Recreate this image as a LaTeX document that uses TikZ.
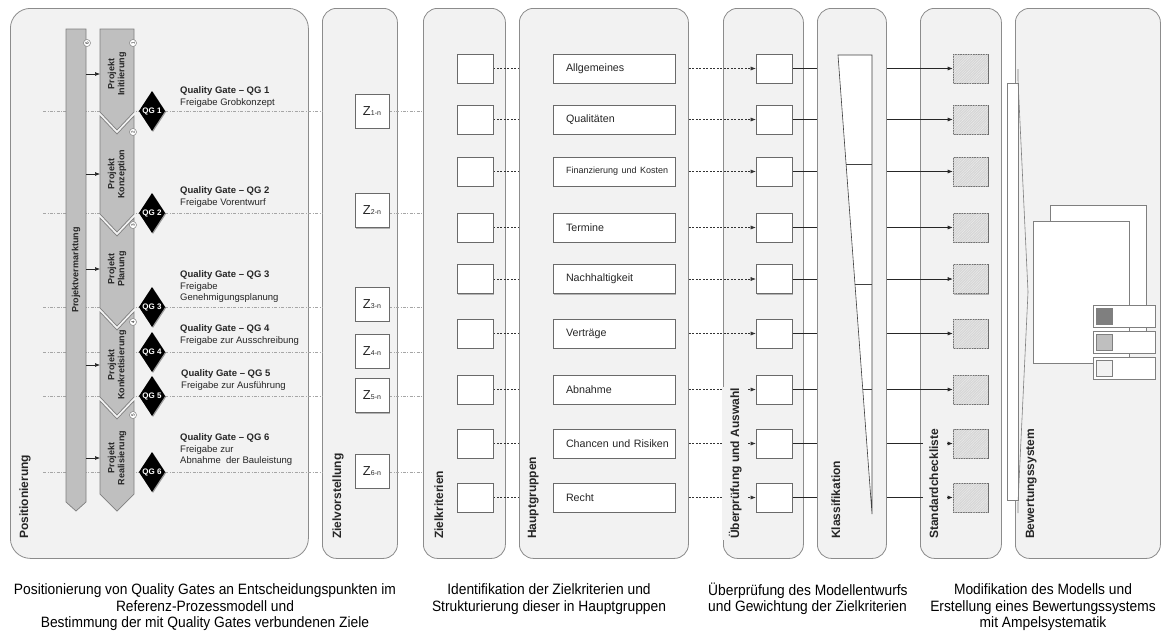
\documentclass[tikz,border=0pt]{standalone}
\usepackage{fontspec}
\setmainfont{Liberation Sans}
\newfontfamily\capfont[FakeStretch=0.92]{Liberation Sans}
\usetikzlibrary{shapes.geometric,shadows,arrows.meta,backgrounds,patterns.meta}

\definecolor{panelfill}{HTML}{F2F2F2}
\definecolor{panelline}{HTML}{8C8C8C}
\definecolor{chevfill}{HTML}{BFBFBF}
\definecolor{chevline}{HTML}{7F7F7F}
\definecolor{boxline}{HTML}{6A6A6A}
\definecolor{gatecol}{HTML}{A6A6A6}
\definecolor{hatchfill}{HTML}{D6D6D6}
\definecolor{txtdark}{HTML}{262626}
\definecolor{ampeldark}{HTML}{7F7F7F}
\definecolor{ampelmid}{HTML}{BFBFBF}
\definecolor{ampellight}{HTML}{F2F2F2}

\newcommand\zsub[1]{{\fontsize{7}{7}\selectfont #1}}
\newcommand\hgsmall{\fontsize{9}{10}\selectfont}

\tikzset{
  panel/.style={draw=panelline, fill=panelfill, line width=0.8pt, rounded corners=14pt, inner sep=0pt, anchor=north west},
  plabel/.style={rotate=90, anchor=base west, font=\bfseries\fontsize{12}{12}\selectfont, text=txtdark, fill=panelfill, inner xsep=1pt, inner ysep=6.5pt, text depth=2.6pt},
  wbox/.style={draw=boxline, fill=white, line width=0.6pt, inner sep=0pt, drop shadow={shadow xshift=1.3pt, shadow yshift=-1.3pt, opacity=0.5, fill=black!55}},
  zkbox/.style={wbox, minimum width=36pt, minimum height=29pt},
  uebox/.style={wbox, minimum width=36pt, minimum height=29pt},
  scbox/.style={wbox, fill=hatchfill, minimum width=35pt, minimum height=29pt, postaction={pattern={Lines[angle=45,distance=1.8pt,line width=0.4pt]}, pattern color=white!55!hatchfill}},
  hgbox/.style={wbox, minimum width=122pt, minimum height=29pt, text width=122pt, align=left, font=\fontsize{10.7}{12}\selectfont, text=txtdark},
  zbox/.style={wbox, minimum width=34pt, minimum height=34pt, font=\fontsize{13}{13}\selectfont, text=txtdark},
  qg/.style={diamond, fill=black, text=white, font=\bfseries\fontsize{8}{8}\selectfont, inner sep=0pt, minimum width=26pt, minimum height=40pt, drop shadow={shadow xshift=1pt, shadow yshift=-1pt, opacity=0.35, fill=black}},
  qgtext/.style={anchor=north west, inner sep=0pt, align=left, font=\fontsize{9.5}{11.7}\selectfont, text=txtdark},
  phase/.style={draw=chevline, fill=chevfill, line width=0.7pt},
  phaselabel/.style={rotate=90, align=center, font=\bfseries\fontsize{9}{10}\selectfont, text=txtdark, inner sep=0pt},
  numdot/.style={circle, draw=chevline, fill=white, line width=0.5pt, minimum size=7pt, inner sep=0pt, font=\fontsize{4.5}{5}\selectfont, rotate=90},
  gatepath/.style={draw=gatecol, line width=0.5pt, dash pattern=on 3pt off 1.5pt on 0.8pt off 1.5pt},
  dashc/.style={draw=black!80, line width=0.5pt, dash pattern=on 2pt off 1.5pt},
  solidc/.style={draw=black!85, line width=0.6pt},
  arrowend/.style={-{Latex[length=5pt,width=4pt]}},
  docsheet/.style={wbox, draw=chevline},
  legendbox/.style={draw=chevline, fill=white, line width=0.6pt, minimum width=62pt, minimum height=22pt, inner sep=0pt},
  swatch/.style={draw=chevline, line width=0.6pt, minimum width=16pt, minimum height=16pt, inner sep=0pt},
  captiontext/.style={font=\capfont\fontsize{15}{16.5}\selectfont, text=black, align=center, inner sep=0pt},
}

\begin{document}
\begin{tikzpicture}[x=1pt,y=-1pt]
\useasboundingbox (0,0) rectangle (1162,635);

% ---------- column panels ----------
\begin{pgfonlayer}{background}
  \fill[white] (0,0) rectangle (1162,635);
  \node[panel, rounded corners=20pt, minimum width=298pt, minimum height=550pt] (p1) at (10,8) {};
  \node[panel, minimum width=75pt,  minimum height=550pt] (p2) at (322,8) {};
  \node[panel, minimum width=82pt,  minimum height=550pt] (p3) at (423,8) {};
  \node[panel, minimum width=169pt, minimum height=550pt] (p4) at (519,8) {};
  \node[panel, minimum width=80pt,  minimum height=550pt] (p5) at (723,8) {};
  \node[panel, minimum width=69pt,  minimum height=550pt] (p6) at (817,8) {};
  \node[panel, minimum width=81pt,  minimum height=550pt] (p7) at (920,8) {};
  \node[panel, minimum width=145pt, minimum height=550pt] (p8) at (1015,8) {};
\end{pgfonlayer}

% ---------- panel titles ----------
\node[plabel] (l1) at (28,540)   {Positionierung};
\node[plabel] (l2) at (341,540)  {Zielvorstellung};
\node[plabel] (l3) at (443,540)  {Zielkriterien};
\node[plabel] (l4) at (536,540)  {Hauptgruppen};
\node[plabel] (l5) at (739,540)  {Überprüfung und Auswahl};
\node[plabel] (l6) at (840,540)  {Klassifikation};
\node[plabel] (l7) at (938,540)  {Standardcheckliste};
\node[plabel] (l8) at (1034,540) {Bewertungssystem};

% ---------- process model ----------
% quality gate levels
\coordinate (g1) at (43,111);
\coordinate (g2) at (43,213);
\coordinate (g3) at (43,307);
\coordinate (g4) at (43,352);
\coordinate (g5) at (43,396);
\coordinate (g6) at (43,472);

% marketing bar
\path[phase] (66,29) -- (86,29) -- (86,502) -- (76,511) -- (66,502) -- cycle;
\node[phaselabel, font=\bfseries\fontsize{9}{10}\selectfont] (pv) at (76,270) {Projektvermarktung};
\node[numdot] (n6) at (87,43) {6};
\coordinate (barE) at (86,270);
\coordinate (phW) at (100,270);

% phases
\path[phase] (100,29) -- (134,29) -- (134,112) -- (117,130) -- (100,112) -- cycle;
\path[phase] (100,116) -- (117,134) -- (134,116) -- (134,214) -- (117,232) -- (100,214) -- cycle;
\path[phase] (100,218) -- (117,236) -- (134,218) -- (134,308) -- (117,326) -- (100,308) -- cycle;
\path[phase] (100,312) -- (117,330) -- (134,312) -- (134,397) -- (117,415) -- (100,397) -- cycle;
\path[phase] (100,401) -- (117,419) -- (134,401) -- (134,494) -- (117,511) -- (100,494) -- cycle;

\node[phaselabel] (ch1) at (117,74)  {Projekt\\Initiierung};
\node[phaselabel] (ch2) at (117,174) {Projekt\\Konzeption};
\node[phaselabel] (ch3) at (117,269) {Projekt\\Planung};
\node[phaselabel] (ch4) at (117,365) {Projekt\\Konkretisierung};
\node[phaselabel] (ch5) at (117,458) {Projekt\\Realisierung};

\node[numdot] (n1) at (133,43)  {1};
\node[numdot] (n2) at (133,132) {2};
\node[numdot] (n3) at (133,225) {3};
\node[numdot] (n4) at (133,322) {4};
\node[numdot] (n5) at (133,415) {5};

\foreach \i in {1,...,5}
  \draw[solidc, arrowend] (barE |- ch\i) -- (phW |- ch\i);

% quality gates
\foreach \i in {1,...,6}
  \node[qg] (q\i) at (152,0 |- g\i) {QG \i};

\node[qgtext] (t1) at (180,86.5)  {\textbf{Quality Gate – QG 1}\\Freigabe Grobkonzept};
\node[qgtext] (t2) at (180,186.5) {\textbf{Quality Gate – QG 2}\\Freigabe Vorentwurf};
\node[qgtext] (t3) at (180,270.5) {\textbf{Quality Gate – QG 3}\\Freigabe\\Genehmigungsplanung};
\node[qgtext] (t4) at (180,324.5) {\textbf{Quality Gate – QG 4}\\Freigabe zur Ausschreibung};
\node[qgtext] (t5) at (181,369.5) {\textbf{Quality Gate – QG 5}\\Freigabe zur Ausführung};
\node[qgtext] (t6) at (180,433.5) {\textbf{Quality Gate – QG 6}\\Freigabe zur\\Abnahme\ \ der Bauleistung};

% ---------- goals ----------
\node[zbox] (z1) at (372,111)   {Z\zsub{1-n}};
\node[zbox] (z2) at (372,210.5) {Z\zsub{2-n}};
\node[zbox] (z3) at (372,304)   {Z\zsub{3-n}};
\node[zbox] (z4) at (372,351)   {Z\zsub{4-n}};
\node[zbox] (z5) at (372,395.5) {Z\zsub{5-n}};
\node[zbox] (z6) at (372,471)   {Z\zsub{6-n}};

% ---------- criteria rows ----------
\foreach \y [count=\i] in {68.5,119.5,171.5,227.5,279,333.5,389.5,443.5,497.5} {
  \node[zkbox] (zk\i) at (475,\y) {};
  \node[uebox] (ue\i) at (774,\y) {};
  \node[scbox] (sc\i) at (970.5,\y) {};
}
\foreach \y/\t [count=\i] in {68.5/Allgemeines, 119.5/Qualitäten, 171.5/{\hgsmall Finanzierung und Kosten},
    227.5/Termine, 279/Nachhaltigkeit, 333.5/Verträge, 389.5/Abnahme, 443.5/Chancen und Risiken, 497.5/Recht}
  \node[hgbox] (hg\i) at (614,\y) {\hspace*{13pt}\t};

% ---------- connectors ----------
\begin{pgfonlayer}{background}
  \foreach \i in {1,...,6} {
    \draw[gatepath] (g\i) -- (g\i -| p2.west);
    \draw[gatepath] (z\i.east |- g\i) -- (g\i -| p3.west);
  }
  \foreach \i in {1,...,9} {
    \draw[dashc] (zk\i.east) -- (zk\i.east -| p4.west);
    \draw[dashc, arrowend] (ue\i.west -| p4.east) -- (ue\i.west);
    \draw[solidc] (ue\i.east) -- (ue\i.east -| p6.west);
    \draw[solidc, arrowend] (sc\i.west -| p6.east) -- (sc\i.west);
  }
\end{pgfonlayer}

% ---------- classification wedge ----------
\path[draw=black!75, fill=white, line width=0.6pt] (838,55) -- (872,55) -- (872,514) -- cycle;
\draw[black!75, line width=0.6pt] (846.1,164) -- (872,164);
\draw[black!75, line width=0.6pt] (855,284) -- (872,284);
\draw[black!75, line width=0.6pt] (862.7,389) -- (872,389);

% ---------- rating system ----------
\path[draw=chevline, fill=white, line width=0.6pt] (1007,83) rectangle (1018,500);
\draw[chevline, line width=0.6pt] (1018,69) -- (1018,80) -- (1028,292) -- (1018,503) -- (1018,513);

\node[docsheet, minimum width=96pt, minimum height=145pt] (docb) at (1098,277.5) {};
\node[docsheet, minimum width=96pt, minimum height=142pt] (docf) at (1081,292) {};

\node[legendbox] (a1) at (1124,316) {};
\node[legendbox] (a2) at (1124,342) {};
\node[legendbox] (a3) at (1124,368) {};
\node[swatch, fill=ampeldark]  (s1) at (1104,316) {};
\node[swatch, fill=ampelmid]   (s2) at (1104,342) {};
\node[swatch, fill=ampellight] (s3) at (1104,368) {};

% ---------- captions ----------
\node[captiontext] (c1) at (205,607.5) {Positionierung von Quality Gates an Entscheidungspunkten im\\Referenz-Prozessmodell und\\Bestimmung der mit Quality Gates verbundenen Ziele};
\node[captiontext] (c2) at (549,599) {Identifikation der Zielkriterien und\\Strukturierung dieser in Hauptgruppen};
\node[captiontext, align=left, anchor=west] (c3) at (708,599) {Überprüfung des Modellentwurfs\\und Gewichtung der Zielkriterien};
\node[captiontext] (c4) at (1043,607.5) {Modifikation des Modells und\\Erstellung eines Bewertungssystems\\mit Ampelsystematik};

\end{tikzpicture}
\end{document}
